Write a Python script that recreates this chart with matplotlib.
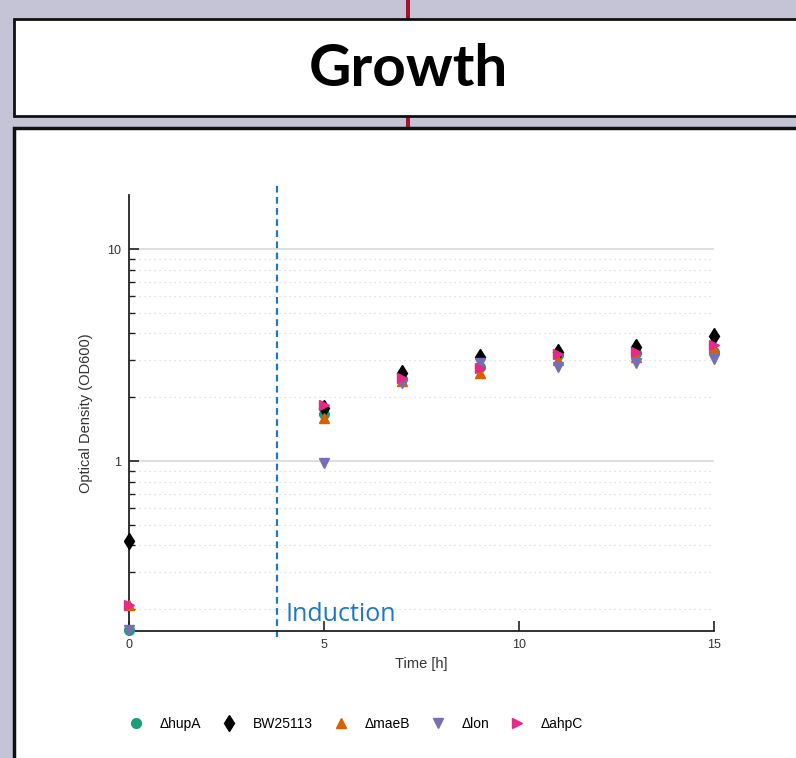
import matplotlib.pyplot as plt
import matplotlib.ticker as mticker
from matplotlib.patches import Rectangle
from matplotlib.lines import Line2D

# data
time_h = [0, 5, 7, 9, 11, 13, 15]
strains = ["ΔhupA", "BW25113", "ΔmaeB", "Δlon", "ΔahpC"]
od_hupA = [0.16, 1.67, 2.45, 2.78, 3.15, 3.25, 3.26]
od_bw = [0.42, 1.78, 2.60, 3.09, 3.28, 3.44, 3.89]
od_maeB = [0.21, 1.60, 2.38, 2.61, 2.99, 3.10, 3.37]
od_lon = [0.16, 0.98, 2.33, 2.90, 2.78, 2.89, 3.03]
od_ahpC = [0.21, 1.84, 2.46, 2.75, 3.19, 3.28, 3.52]
induction_t = 3.8

colors = ["#1b9e77", "#000000", "#d95f02", "#7570b3", "#e7298a"]
markers = ["o", "d", "^", "v", ">"]
sizes = [7, 8.5, 7.5, 7.5, 7.5]
series = [od_hupA, od_bw, od_maeB, od_lon, od_ahpC]

W, H = 796, 758
fig = plt.figure(figsize=(W / 100, H / 100), dpi=100)
fig.patch.set_facecolor("#c4c4d6")

def fx(px):
    return px / W

def fy(py):
    return 1 - py / H

# red connector line behind the boxes
fig.add_artist(Rectangle((fx(406), 0), fx(4), 1, transform=fig.transFigure,
                         facecolor="#a5112f", edgecolor="none", zorder=0))
# title box
fig.add_artist(Rectangle((fx(14), fy(116)), fx(800), fy(19) - fy(116),
                         transform=fig.transFigure, facecolor="white",
                         edgecolor="#111111", lw=2, zorder=1))
fig.text(fx(408), fy(69), "Growth", ha="center", va="center",
         fontsize=42, fontweight="bold", family="Lato", zorder=2)
# chart box
fig.add_artist(Rectangle((fx(14), fy(800)), fx(800), fy(128) - fy(800),
                         transform=fig.transFigure, facecolor="white",
                         edgecolor="#111111", lw=2.5, zorder=1))

ax = fig.add_axes([fx(129), fy(631), fx(714) - fx(129), fy(195) - fy(631)])
ax.set_zorder(3)
ax.patch.set_alpha(0)

for vals, c, m, s, lab in zip(series, colors, markers, sizes, strains):
    ax.plot(time_h, vals, linestyle="none", marker=m, color=c,
            markersize=s, label=lab, clip_on=False, zorder=4)

ax.set_yscale("log")
ax.set_xlim(0, 15)
ax.set_ylim(0.158, 18)
ax.set_xticks([0, 5, 10, 15])
ax.yaxis.set_major_locator(mticker.FixedLocator([1, 10]))
ax.yaxis.set_major_formatter(mticker.FixedFormatter(["1", "10"]))
ax.yaxis.set_minor_locator(mticker.LogLocator(base=10, subs=range(2, 10)))
ax.yaxis.set_minor_formatter(mticker.NullFormatter())

ax.grid(True, which="major", axis="y", color="#dcdcdc", lw=1.3)
ax.grid(True, which="minor", axis="y", color="#d6d6d6", lw=0.9, linestyle=(0, (1, 3)))
ax.set_axisbelow(True)

for side in ["top", "right"]:
    ax.spines[side].set_visible(False)
for side in ["left", "bottom"]:
    ax.spines[side].set_linewidth(1.3)
    ax.spines[side].set_color("#222222")

ax.tick_params(which="major", direction="in", length=7, width=1.2,
               labelsize=9, colors="#222222", labelcolor="#333333", pad=6)
ax.tick_params(which="minor", direction="in", length=4, width=1.0, colors="#222222")
for lab in ax.get_xticklabels() + ax.get_yticklabels():
    lab.set_family("Liberation Sans")

ax.set_xlabel("Time [h]", fontsize=10.5, family="Liberation Sans", color="#333333", labelpad=4)
ax.set_ylabel("Optical Density (OD600)", fontsize=10.5, family="Liberation Sans",
              color="#333333", labelpad=10)

# induction marker
ax.axvline(induction_t, ymin=-0.014, ymax=1.023, color="#1f78c4", lw=1.6,
           linestyle=(0, (3, 2)), clip_on=False, zorder=2)
ax.text(induction_t + 0.2, 0.19, "Induction", color="#1f78c4", fontsize=18,
        family="Open Sans", va="center", ha="left")

handles = [Line2D([], [], linestyle="none", marker=m, color=c, markersize=s)
           for c, m, s in zip(colors, markers, sizes)]
leg = fig.legend(handles, strains, loc="center left", bbox_to_anchor=(fx(110), fy(724)),
                 ncol=5, frameon=False, columnspacing=1.0, handletextpad=0.7,
                 prop={"family": "Liberation Sans", "size": 10})

fig.savefig("out.png", dpi=100, facecolor=fig.get_facecolor())
